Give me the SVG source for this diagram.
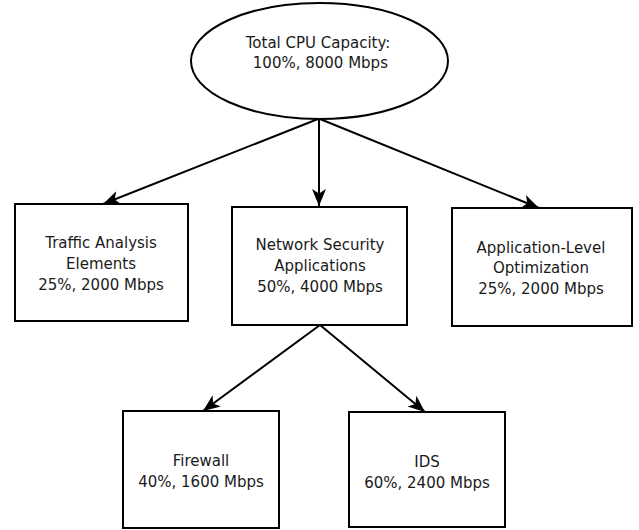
<svg xmlns="http://www.w3.org/2000/svg" width="639" height="530" viewBox="0 0 639 530">
<style>
.shape{fill:#fff;stroke:#000;stroke-width:2}
.lbl{font-family:"DejaVu Sans",Verdana,sans-serif;font-size:15px;fill:#1a1a1a;text-anchor:middle}
.edge{fill:none;stroke:#000;stroke-width:2}
</style>
<defs>
<marker id="arr" markerUnits="userSpaceOnUse" markerWidth="18" markerHeight="16" refX="17" refY="7" orient="auto">
<path d="M0,0 L17,7 L0,14 L4.5,7 Z" fill="#000"/>
</marker>
</defs>
<rect width="639" height="530" fill="#fff"/>
<g id="connectors">
<path class="edge" d="M318,119 L103,204" marker-end="url(#arr)"/>
<path class="edge" d="M319,119 L319,206" marker-end="url(#arr)"/>
<path class="edge" d="M320,119 L539,208" marker-end="url(#arr)"/>
<path class="edge" d="M320,325 L203,411" marker-end="url(#arr)"/>
<path class="edge" d="M320,325 L425,412" marker-end="url(#arr)"/>
</g>
<g id="total">
<ellipse class="shape" cx="319.5" cy="61" rx="128.5" ry="58"/>
<text class="lbl" x="318" y="48">Total CPU Capacity:</text>
<text class="lbl" x="318" y="68" xml:space="preserve"> 100%, 8000 Mbps</text>
</g>
<g id="traffic">
<rect class="shape" x="15" y="204" width="173" height="117"/>
<text class="lbl" x="101" y="248">Traffic Analysis</text>
<text class="lbl" x="101" y="269">Elements</text>
<text class="lbl" x="101" y="290">25%, 2000 Mbps</text>
</g>
<g id="netsec">
<rect class="shape" x="232" y="207" width="175" height="118"/>
<text class="lbl" x="320" y="250">Network Security</text>
<text class="lbl" x="320" y="271">Applications</text>
<text class="lbl" x="320" y="292">50%, 4000 Mbps</text>
</g>
<g id="applevel">
<rect class="shape" x="452" y="208" width="180" height="118"/>
<text class="lbl" x="541" y="253">Application-Level</text>
<text class="lbl" x="541" y="273">Optimization</text>
<text class="lbl" x="541" y="294">25%, 2000 Mbps</text>
</g>
<g id="firewall">
<rect class="shape" x="123" y="411" width="156" height="117"/>
<text class="lbl" x="201" y="466">Firewall</text>
<text class="lbl" x="201" y="487">40%, 1600 Mbps</text>
</g>
<g id="ids">
<rect class="shape" x="349" y="412" width="156" height="115"/>
<text class="lbl" x="427" y="467">IDS</text>
<text class="lbl" x="427" y="488">60%, 2400 Mbps</text>
</g>
</svg>
